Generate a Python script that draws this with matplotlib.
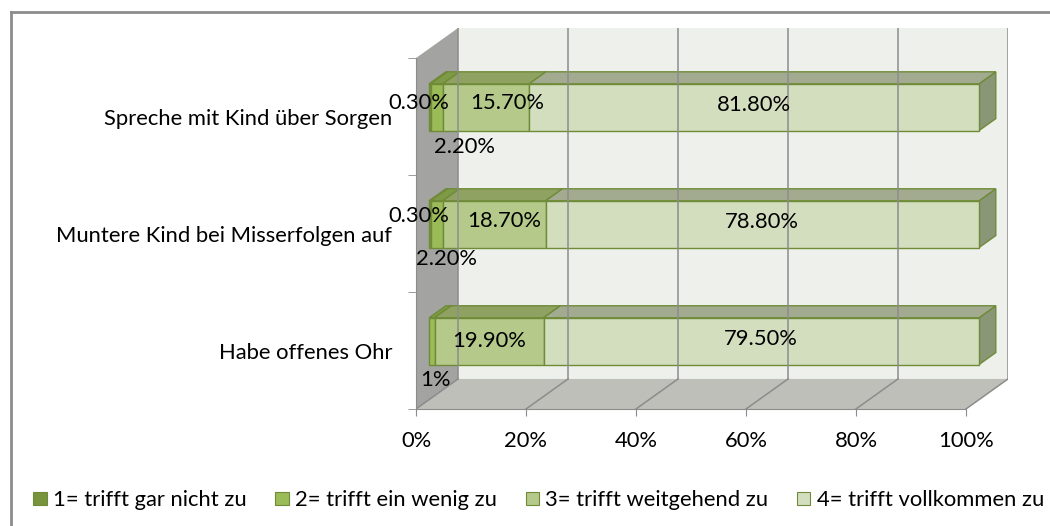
import matplotlib.pyplot as plt
from matplotlib.patches import Polygon, Patch
from matplotlib.lines import Line2D

plt.rcParams['font.family'] = ['Lato', 'DejaVu Sans']

# --- data ---
categories = ["Spreche mit Kind über Sorgen", "Muntere Kind bei Misserfolgen auf", "Habe offenes Ohr"]
series_names = ["1= trifft gar nicht zu", "2= trifft ein wenig zu",
                "3= trifft weitgehend zu", "4= trifft vollkommen zu"]
s1 = [0.3, 0.3, 0.0]
s2 = [2.2, 2.2, 1.0]
s3 = [15.7, 18.7, 19.9]
s4 = [81.8, 78.8, 79.5]
labels1 = ["0.30%", "0.30%", ""]
labels2 = ["2.20%", "2.20%", "1%"]
labels3 = ["15.70%", "18.70%", "19.90%"]
labels4 = ["81.80%", "78.80%", "79.50%"]
x_ticks = [0, 20, 40, 60, 80, 100]

# --- style ---
front_col = ["#77933C", "#9BBB59", "#B4C98A", "#D3DEBF"]
top_col = ["#6A8436", "#7F9A47", "#8FA262", "#A2AB90"]
side_col = ["#5E752F", "#728B3F", "#7F9158", "#8A9777"]
edge_col = "#6F8B38"
grid_col = "#8C8C8C"
FS = 15.8

# label offsets in pixels (dx, dy up) per series / bar
off1 = [(-11, 4), (-11, 8), (0, 0)]
off2 = [(28, -40), (10, -35), (4, -39)]
off3 = [(21, 4), (10, 3), (0, 0)]
off4 = [(0, 2), (0, 2), (0, 2)]

# 3D box depth in data units
DX, DY = 7.65, 0.257
D0, D1 = 0.31, 0.71   # bar depth range
H = 0.2               # half bar height


def proj(v, y, d):
    return (v + d * DX, y + d * DY)


fig = plt.figure(figsize=(10.5, 5.26), dpi=100)
ax = fig.add_axes([416 / 1050, 117 / 526, 592 / 1050, 381 / 526])
n = len(categories)
ax.set_xlim(0, 100 + DX)
ax.set_ylim(-0.5, n - 0.5 + DY)

# walls and floor
back = [proj(0, -0.5, 1), proj(100, -0.5, 1), proj(100, n - 0.5, 1), proj(0, n - 0.5, 1)]
ax.add_patch(Polygon(back, closed=True, facecolor="#EEF1EB", edgecolor="none"))
wall = [proj(0, -0.5, 0), proj(0, -0.5, 1), proj(0, n - 0.5, 1), proj(0, n - 0.5, 0)]
ax.add_patch(Polygon(wall, closed=True, facecolor="#A3A3A1", edgecolor="none"))
floor = [proj(0, -0.5, 0), proj(100, -0.5, 0), proj(100, -0.5, 1), proj(0, -0.5, 1)]
ax.add_patch(Polygon(floor, closed=True, facecolor="#BEBFB9", edgecolor="none"))

for v in x_ticks:
    a, b = proj(v, -0.5, 1), proj(v, n - 0.5, 1)
    ax.plot([a[0], b[0]], [a[1], b[1]], color=grid_col, lw=1.1)
    c = proj(v, -0.5, 0)
    ax.plot([c[0], a[0]], [c[1], a[1]], color=grid_col, lw=1.1)

# bars
series = [s1, s2, s3, s4]
labels = [labels1, labels2, labels3, labels4]
offs = [off1, off2, off3, off4]
for i, cat in enumerate(categories):
    yc = n - 1 - i
    total = sum(s[i] for s in series)
    left = 0
    for k, s in enumerate(series):
        w = s[i] / total * 100
        if w <= 0:
            continue
        r = left + w
        side = [proj(r, yc - H, D0), proj(r, yc - H, D1), proj(r, yc + H, D1), proj(r, yc + H, D0)]
        top = [proj(left, yc + H, D0), proj(r, yc + H, D0), proj(r, yc + H, D1), proj(left, yc + H, D1)]
        face = [proj(left, yc - H, D0), proj(r, yc - H, D0), proj(r, yc + H, D0), proj(left, yc + H, D0)]
        ax.add_patch(Polygon(side, closed=True, facecolor=side_col[k], edgecolor=edge_col, lw=1))
        ax.add_patch(Polygon(top, closed=True, facecolor=top_col[k], edgecolor=edge_col, lw=1))
        ax.add_patch(Polygon(face, closed=True, facecolor=front_col[k], edgecolor=edge_col, lw=1))
        txt = labels[k][i]
        if txt:
            dx, dy = offs[k][i]
            ax.annotate(txt, proj(left + w / 2, yc, D0), xytext=(dx * 0.72, dy * 0.72),
                        textcoords="offset points", ha="center", va="center", fontsize=FS)
        left = r

# axes
for sp in ["top", "right"]:
    ax.spines[sp].set_visible(False)
ax.spines["left"].set_bounds(-0.5, n - 0.5)
ax.spines["bottom"].set_bounds(0, 100)
ax.spines["left"].set_color(grid_col)
ax.spines["bottom"].set_color(grid_col)
ax.set_xticks(x_ticks)
ax.set_xticklabels([f"{v}%" for v in x_ticks], fontsize=FS)
ax.tick_params(axis="x", direction="out", length=5, color=grid_col, pad=11)
ax.set_yticks(range(n))
ax.set_yticklabels(categories[::-1], fontsize=FS)
ax.set_yticks([k - 0.5 for k in range(n + 1)], minor=True)
ax.tick_params(axis="y", which="major", length=0, pad=17)
ax.tick_params(axis="y", which="minor", direction="out", length=6, color=grid_col)

# legend
handles = [Patch(facecolor=front_col[k], edgecolor=edge_col, lw=0.8) for k in range(4)]
fig.legend(handles, series_names, loc="center", bbox_to_anchor=(0.513, 0.049), ncol=4,
           frameon=False, fontsize=FS, handlelength=0.6, handleheight=0.6,
           handletextpad=0.3, columnspacing=1.3)

# outer frame
fig.add_artist(Line2D([11 / 1050, 11 / 1050], [0, 514 / 526], color="#8C8C8C", lw=2))
fig.add_artist(Line2D([11 / 1050, 1], [514 / 526, 514 / 526], color="#8C8C8C", lw=2))

fig.savefig("out.png", dpi=100)
